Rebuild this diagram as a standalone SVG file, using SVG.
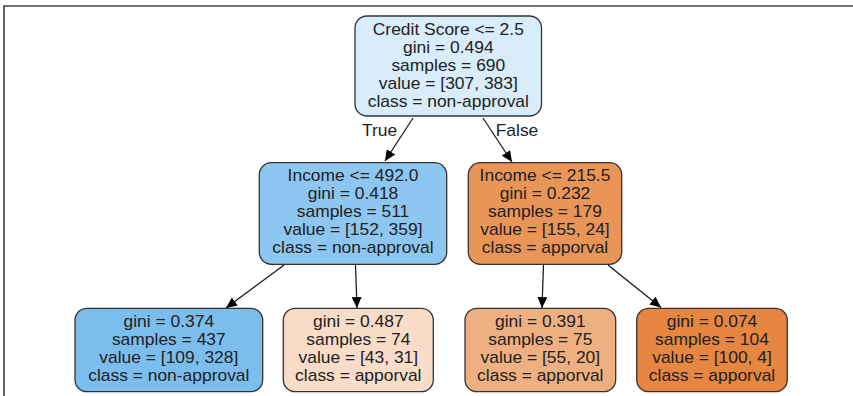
<svg xmlns="http://www.w3.org/2000/svg" width="853" height="396" viewBox="0 0 853 396">
<style>
.box{stroke:#333;stroke-width:1.3}
.t{font-family:"Liberation Sans",Arial,sans-serif;font-size:16px;fill:#222;text-anchor:middle}
.e{stroke:#111;stroke-width:1.2;fill:none}
</style>
<defs>
<marker id="arr" markerUnits="userSpaceOnUse" markerWidth="12" markerHeight="10" refX="11" refY="5" orient="auto">
<path d="M0,0 L11,5 L0,10 Z" fill="#000"/>
</marker>
</defs>
<rect width="853" height="396" fill="#fff"/>
<line x1="4" y1="6" x2="853" y2="6" stroke="#444" stroke-width="1.6"/>
<line x1="4" y1="5.5" x2="4" y2="396" stroke="#222" stroke-width="1.4"/>
<g id="edges">
<line class="e" x1="413" y1="118" x2="385" y2="161" marker-end="url(#arr)"/>
<line class="e" x1="483" y1="118" x2="512" y2="162" marker-end="url(#arr)"/>
<line class="e" x1="284" y1="265" x2="226" y2="308" marker-end="url(#arr)"/>
<line class="e" x1="355.5" y1="265" x2="357" y2="308" marker-end="url(#arr)"/>
<line class="e" x1="543.5" y1="265" x2="542" y2="308" marker-end="url(#arr)"/>
<line class="e" x1="608" y1="265" x2="661" y2="307.5" marker-end="url(#arr)"/>
<g transform="translate(379.5,0) scale(1.09,1)"><text class="t" x="0" y="136.5">True</text></g>
<g transform="translate(517,0) scale(1.09,1)"><text class="t" x="0" y="136.5">False</text></g>
</g>
<g id="root">
<rect class="box" x="355" y="16" width="186.5" height="100" rx="12" fill="#d8ecfa"/>
<g transform="translate(448.3,0) scale(1.09,1)">
<text class="t" x="0" y="35.5">Credit Score &lt;= 2.5</text>
<text class="t" x="0" y="53.5">gini = 0.494</text>
<text class="t" x="0" y="71.5">samples = 690</text>
<text class="t" x="0" y="89.5">value = [307, 383]</text>
<text class="t" x="0" y="107.5">class = non-approval</text>
</g>
</g>
<g id="income_left">
<rect class="box" x="259.3" y="162.7" width="187.4" height="101.6" rx="12" fill="#8dc6f0"/>
<g transform="translate(353,0) scale(1.09,1)">
<text class="t" x="0" y="181">Income &lt;= 492.0</text>
<text class="t" x="0" y="199">gini = 0.418</text>
<text class="t" x="0" y="217">samples = 511</text>
<text class="t" x="0" y="235">value = [152, 359]</text>
<text class="t" x="0" y="253">class = non-approval</text>
</g>
</g>
<g id="income_right">
<rect class="box" x="468.3" y="162.7" width="153.4" height="101.6" rx="12" fill="#e99558"/>
<g transform="translate(545,0) scale(1.09,1)">
<text class="t" x="0" y="181">Income &lt;= 215.5</text>
<text class="t" x="0" y="199">gini = 0.232</text>
<text class="t" x="0" y="217">samples = 179</text>
<text class="t" x="0" y="235">value = [155, 24]</text>
<text class="t" x="0" y="253">class = apporval</text>
</g>
</g>
<g id="leaf1">
<rect class="box" x="75" y="308.3" width="187.7" height="83.4" rx="12" fill="#7bbeee"/>
<g transform="translate(168.8,0) scale(1.09,1)">
<text class="t" x="0" y="327">gini = 0.374</text>
<text class="t" x="0" y="345">samples = 437</text>
<text class="t" x="0" y="363">value = [109, 328]</text>
<text class="t" x="0" y="381">class = non-approval</text>
</g>
</g>
<g id="leaf2">
<rect class="box" x="283.3" y="308.3" width="150" height="83.4" rx="12" fill="#f8dcc8"/>
<g transform="translate(358.3,0) scale(1.09,1)">
<text class="t" x="0" y="327">gini = 0.487</text>
<text class="t" x="0" y="345">samples = 74</text>
<text class="t" x="0" y="363">value = [43, 31]</text>
<text class="t" x="0" y="381">class = apporval</text>
</g>
</g>
<g id="leaf3">
<rect class="box" x="465" y="308.3" width="150.7" height="83.4" rx="12" fill="#eeaf81"/>
<g transform="translate(540.3,0) scale(1.09,1)">
<text class="t" x="0" y="327">gini = 0.391</text>
<text class="t" x="0" y="345">samples = 75</text>
<text class="t" x="0" y="363">value = [55, 20]</text>
<text class="t" x="0" y="381">class = apporval</text>
</g>
</g>
<g id="leaf4">
<rect class="box" x="636.7" y="308.3" width="150.6" height="83.4" rx="12" fill="#e68641"/>
<g transform="translate(712,0) scale(1.09,1)">
<text class="t" x="0" y="327">gini = 0.074</text>
<text class="t" x="0" y="345">samples = 104</text>
<text class="t" x="0" y="363">value = [100, 4]</text>
<text class="t" x="0" y="381">class = apporval</text>
</g>
</g>
</svg>
